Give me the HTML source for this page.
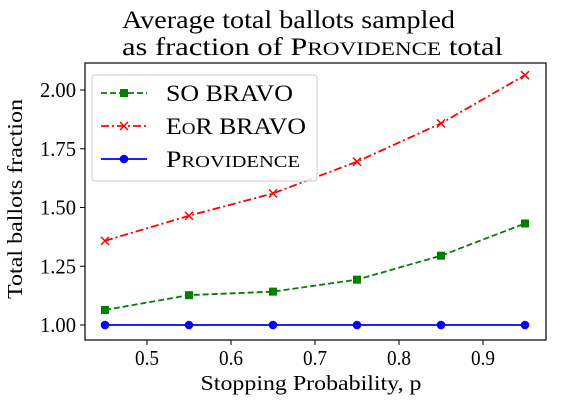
<!DOCTYPE html>
<html><head><meta charset="utf-8"><style>
body{margin:0;background:#fff;width:567px;height:408px;overflow:hidden}
text{font-family:"Liberation Serif",serif;fill:#000}
</style></head><body>
<svg id="c" width="567" height="408" xmlns="http://www.w3.org/2000/svg"></svg>
<script>
const xs=[0.45,0.55,0.65,0.75,0.85,0.95];
const soBravo=[1.064,1.127,1.142,1.193,1.295,1.432];
const eorBravo=[1.358,1.465,1.560,1.695,1.858,2.063];
const providence=[1.0,1.0,1.0,1.0,1.0,1.0];
const xTicks=[0.5,0.6,0.7,0.8,0.9];
const yTicks=[1.00,1.25,1.50,1.75,2.00];
const L=85,R=546,T=63,B=340;
const X=v=>147+(v-0.5)*840;
const Y=v=>325-(v-1)*235;
const svg=document.getElementById('c');
const NS='http://www.w3.org/2000/svg';
function mk(t,a,p){const e=document.createElementNS(NS,t);for(const k in a)e.setAttribute(k,a[k]);(p||svg).appendChild(e);return e;}
let e;
e=mk('rect',{x:L,y:T,width:R-L,height:B-T,fill:'none',stroke:'#000','stroke-width':1.2});

xTicks.forEach(v=>{mk('line',{x1:X(v),x2:X(v),y1:B,y2:B+5,stroke:'#000'});
 e=mk('text',{x:X(v),y:B+25,'font-size':21,'text-anchor':'middle',textLength:24,lengthAdjust:'spacingAndGlyphs'});e.textContent=v.toFixed(1);
 });
yTicks.forEach(v=>{mk('line',{x1:L-5,x2:L,y1:Y(v),y2:Y(v),stroke:'#000'});
 e=mk('text',{x:L-9,y:Y(v)+7,'font-size':21,'text-anchor':'end',textLength:36,lengthAdjust:'spacingAndGlyphs'});e.textContent=v.toFixed(2);
 });
function series(vals,col,dash,marker,name){
 const g=mk('g',{});
 mk('polyline',{points:xs.map((x,i)=>X(x)+','+Y(vals[i])).join(' '),fill:'none',stroke:col,'stroke-width':1.8,'stroke-dasharray':dash},g);
 xs.forEach((x,i)=>drawMarker(g,X(x),Y(vals[i]),col,marker));
}
function drawMarker(g,cx,cy,col,m){
 if(m==='s')mk('rect',{x:cx-4,y:cy-4,width:8,height:8,fill:col},g);
 else if(m==='x'){mk('path',{d:`M${cx-4},${cy-4}L${cx+4},${cy+4}M${cx-4},${cy+4}L${cx+4},${cy-4}`,stroke:col,'stroke-width':1.5},g);}
 else mk('circle',{cx,cy,r:4.3,fill:col},g);
}
series(soBravo,'#008000','6,3','s','series-so-bravo');
series(eorBravo,'#ff0000','8,3,2,3','x','series-eor-bravo');
series(providence,'#0000ff','','o','series-providence');
const lg=mk('g',{});
mk('rect',{x:92,y:75,width:225,height:106,rx:3,fill:'#fff','fill-opacity':0.85,stroke:'#ccc'},lg);
const ent=[['SO BRAVO','#008000','6,3','s',127],['EoR BRAVO','#ff0000','8,3,2,3','x',140],['Providence','#0000ff','','o',134]];
ent.forEach((en,i)=>{const y=93+i*33;
 mk('line',{x1:101,x2:147,y1:y,y2:y,stroke:en[1],'stroke-width':1.8,'stroke-dasharray':en[2]},lg);
 drawMarker(lg,124,y,en[1],en[3]);
 e=mk('text',{x:166,y:y+8,'font-size':23,textLength:en[4],lengthAdjust:'spacingAndGlyphs'},lg);
 if(i===0)e.innerHTML='SO BRAVO';
 else if(i===1)e.innerHTML='E<tspan font-size="17">O</tspan>R BRAVO';
 else e.innerHTML='P<tspan font-size="17">ROVIDENCE</tspan>';
 });
e=mk('text',{x:122,y:28,'font-size':25,textLength:333,lengthAdjust:'spacingAndGlyphs'});e.textContent='Average total ballots sampled';

e=mk('text',{x:122,y:55,'font-size':25,textLength:381,lengthAdjust:'spacingAndGlyphs'});e.innerHTML='as fraction of P<tspan font-size="19">ROVIDENCE</tspan> total';

e=mk('text',{x:311,y:390,'font-size':21,'text-anchor':'middle',textLength:221,lengthAdjust:'spacingAndGlyphs'});e.textContent='Stopping Probability, p';

e=mk('text',{x:0,y:0,'font-size':21,'text-anchor':'middle',textLength:200,lengthAdjust:'spacingAndGlyphs',transform:'translate(22,199) rotate(-90)'});e.textContent='Total ballots fraction';

</script>
</body></html>
